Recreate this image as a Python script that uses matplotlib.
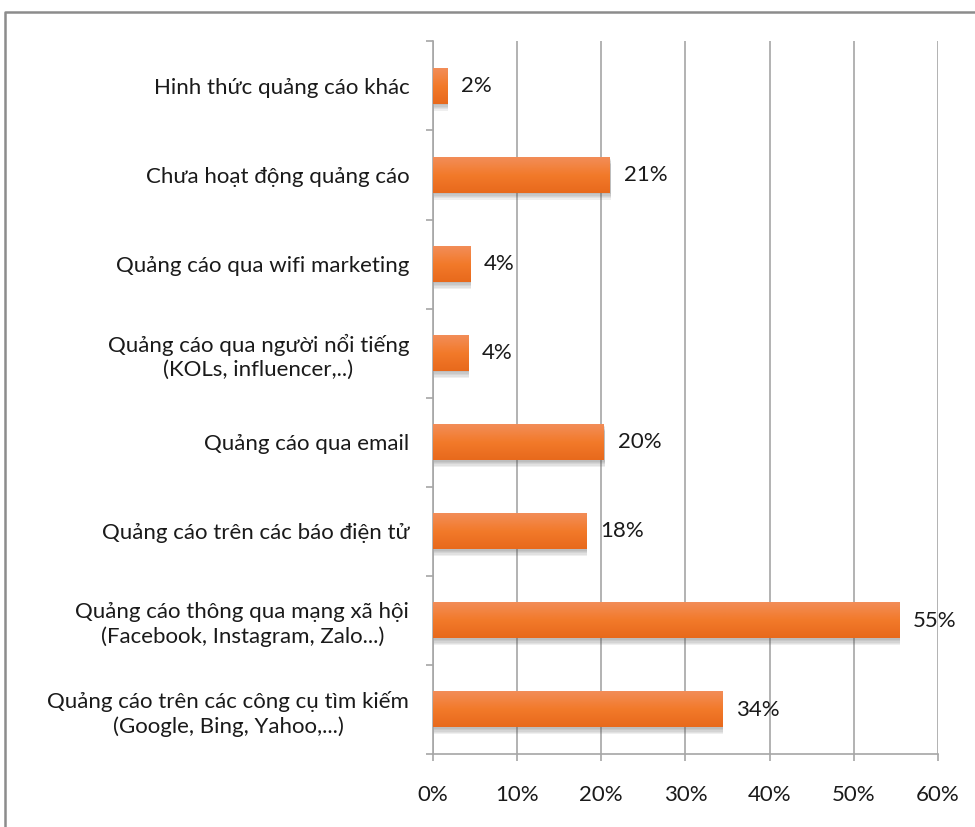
import numpy as np
import matplotlib
matplotlib.use("Agg")
import matplotlib.pyplot as plt
import matplotlib.patheffects as pe
from matplotlib.colors import LinearSegmentedColormap
from matplotlib.lines import Line2D

plt.rcParams['font.family'] = ['Lato', 'DejaVu Sans']

# survey answers, bottom to top
categories = [
    "Quảng cáo trên các công cụ tìm kiếm\n(Google, Bing, Yahoo,...)",
    "Quảng cáo thông qua mạng xã hội\n(Facebook, Instagram, Zalo...)",
    "Quảng cáo trên các báo điện tử",
    "Quảng cáo qua email",
    "Quảng cáo qua người nổi tiếng\n(KOLs, influencer,..)",
    "Quảng cáo qua wifi marketing",
    "Chưa hoạt động quảng cáo",
    "Hinh thức quảng cáo khác",
]
shares = [34.4, 55.4, 18.2, 20.3, 4.2, 4.4, 21.0, 1.7]
xticks = [0, 10, 20, 30, 40, 50, 60]

text_col = "#1a1a1a"
grid_col = "#a6a6a6"
fs = 16

fig = plt.figure(figsize=(9.75, 8.27), dpi=100)
ax = fig.add_axes([0.444, 0.088, 0.518, 0.862])

# soft drop shadow: stacked faint offsets
shadow = [pe.SimplePatchShadow(offset=(0.6, -k), shadow_rgbFace="#555555", alpha=0.09)
          for k in (1, 2, 3, 4, 5)]
y = np.arange(len(categories))
bars = ax.barh(y, shares, height=0.4, color="#f07a2a", zorder=3,
               path_effects=shadow + [pe.Normal()])

# vertical orange gradient on each bar
grad = LinearSegmentedColormap.from_list("bar", ["#e8691c", "#f27a2a", "#f28d58"])
g = np.linspace(0, 1, 64).reshape(-1, 1)
for b in bars:
    x0, y0 = b.get_x(), b.get_y()
    ax.imshow(g, cmap=grad, aspect="auto", origin="lower", zorder=4,
              extent=[x0, x0 + b.get_width(), y0, y0 + b.get_height()])

for b, v in zip(bars, shares):
    ax.annotate(f"{v:.0f}%", (b.get_width(), b.get_y() + b.get_height() / 2),
                xytext=(10, 0), textcoords="offset points", va="center", ha="left",
                fontsize=fs, color=text_col, zorder=5)

ax.set_xlim(0, 60)
ax.set_ylim(-0.5, len(categories) - 0.5)
ax.set_xticks(xticks)
ax.set_xticklabels([f"{t}%" for t in xticks], fontsize=fs, color=text_col)
ax.set_yticks(y)
ax.set_yticklabels(categories, fontsize=fs, color=text_col, multialignment="center",
                   linespacing=1.25)
ax.set_yticks(np.arange(-0.5, len(categories), 1.0), minor=True)

ax.tick_params(axis="y", which="major", length=0, pad=17)
ax.tick_params(axis="y", which="minor", length=5, width=1.2, color=grid_col)
ax.tick_params(axis="x", length=5, width=1.2, color=grid_col, pad=17)

ax.grid(axis="x", color=grid_col, linewidth=1.2, zorder=0)
ax.set_axisbelow(True)
for s in ["top", "right"]:
    ax.spines[s].set_visible(False)
for s in ["left", "bottom"]:
    ax.spines[s].set_color(grid_col)
    ax.spines[s].set_linewidth(1.2)

# outer frame of the chart area
fx, fy = 5 / 975, 1 - 12 / 827
fig.add_artist(Line2D([fx, fx, 1.0], [0.0, fy, fy], transform=fig.transFigure,
                      color="#8c8c8c", linewidth=1.8))

fig.savefig("out.png", dpi=100)
